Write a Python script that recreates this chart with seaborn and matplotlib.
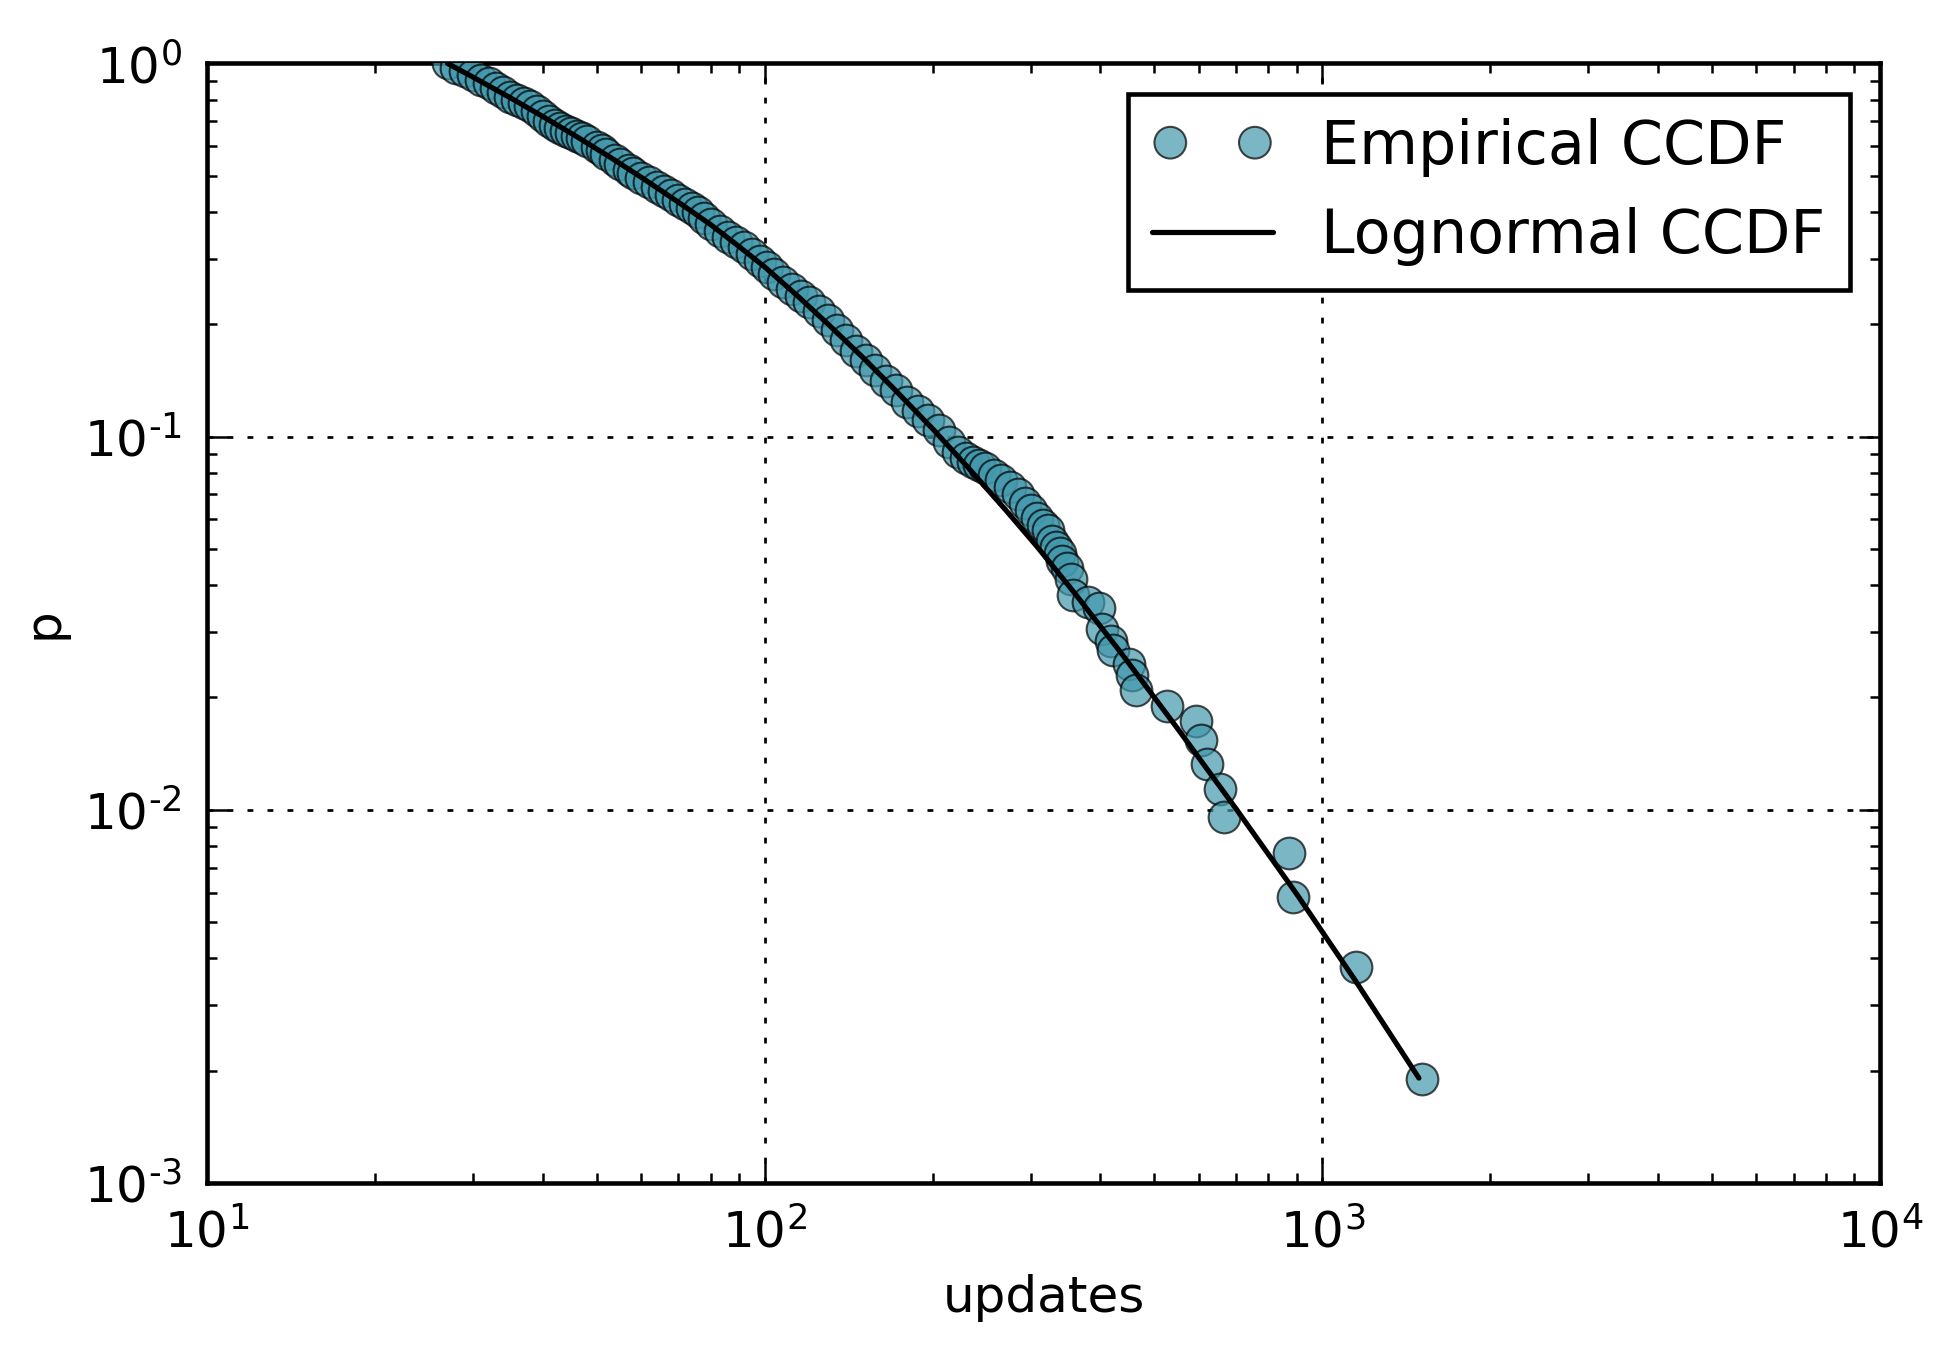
import matplotlib
matplotlib.use("Agg")
import matplotlib.pyplot as plt
from matplotlib.ticker import FuncFormatter, LogLocator
import seaborn as sns
import numpy as np
import pandas as pd

# empirical ccdf points
updates = [27, 28, 29, 30, 31, 32, 33, 34, 35, 36, 37, 38, 39, 40, 41, 42, 43, 44, 45, 46,
           47, 48, 50, 51, 52, 54, 55, 57, 58, 60, 62, 64, 66, 68, 70, 72, 74, 76, 78, 80,
           83, 86, 89, 92, 95, 98, 101, 104, 108, 112, 116, 120, 125, 130, 135, 140, 146,
           152, 158, 165, 172, 180, 188, 196, 205, 214, 222, 230, 236, 242, 248, 258, 265,
           275, 285, 293, 300, 308, 315, 322, 327, 333, 338, 342, 348, 354, 357, 380, 398,
           402, 418, 421, 450, 456, 463, 527, 594, 606, 621, 655, 666, 871, 886, 1147, 1512]
p_emp = [1.0, 0.975, 0.955, 0.930, 0.905, 0.885, 0.862, 0.838, 0.815, 0.800, 0.785, 0.768,
         0.745, 0.722, 0.703, 0.686, 0.672, 0.660, 0.650, 0.640, 0.630, 0.620, 0.598, 0.585,
         0.572, 0.550, 0.538, 0.517, 0.508, 0.494, 0.482, 0.468, 0.455, 0.443, 0.430, 0.420,
         0.410, 0.399, 0.386, 0.372, 0.356, 0.343, 0.333, 0.322, 0.309, 0.296, 0.285, 0.272,
         0.259, 0.248, 0.238, 0.229, 0.217, 0.205, 0.193, 0.182, 0.170, 0.160, 0.151, 0.141,
         0.133, 0.124, 0.117, 0.111, 0.104, 0.097, 0.091, 0.0875, 0.0855, 0.084, 0.0824,
         0.079, 0.0765, 0.0731, 0.070, 0.0664, 0.0635, 0.0605, 0.058, 0.0562, 0.0525, 0.0505,
         0.0488, 0.0465, 0.0445, 0.0415, 0.0376, 0.0360, 0.0347, 0.0305, 0.0283, 0.0268,
         0.0246, 0.0230, 0.0209, 0.0190, 0.0173, 0.0154, 0.0133, 0.0114, 0.00957, 0.00766,
         0.00584, 0.00379, 0.00190]

# fitted lognormal ccdf
fit_x = [27, 30, 35, 40, 46, 53, 60, 70, 80, 90, 100, 115, 130, 150, 170, 200, 231, 270,
         308, 360, 435, 551, 700, 900, 1150, 1490]
fit_p = [1.0, 0.919, 0.809, 0.721, 0.637, 0.559, 0.496, 0.425, 0.370, 0.323, 0.285, 0.237,
         0.200, 0.163, 0.135, 0.105, 0.083, 0.0638, 0.0507, 0.0380, 0.0264, 0.01645, 0.01007,
         0.00594, 0.00346, 0.00191]

emp = pd.DataFrame({"updates": updates, "p": p_emp})
fit = pd.DataFrame({"updates": fit_x, "p": fit_p})

sns.set_style("white")
plt.rcParams["font.family"] = ["DejaVu Sans"]
plt.rcParams["mathtext.default"] = "regular"
plt.rcParams["axes.unicode_minus"] = False
plt.rcParams["font.size"] = 12
plt.rcParams["text.color"] = "black"
plt.rcParams["axes.labelcolor"] = "black"
plt.rcParams["xtick.color"] = "black"
plt.rcParams["ytick.color"] = "black"
plt.rcParams["lines.scale_dashes"] = False

fig = plt.figure(figsize=(6.473, 4.51), dpi=300)
ax = fig.add_axes([0.1066, 0.1257, 0.8615, 0.8274])
ax.set_xscale("log")
ax.set_yscale("log")

sns.scatterplot(data=emp, x="updates", y="p", ax=ax, s=58, color="#4298ac",
                edgecolor="black", linewidth=0.5, alpha=0.7, label="Empirical CCDF",
                zorder=3)
sns.lineplot(data=fit, x="updates", y="p", ax=ax, color="black", lw=1.25,
             estimator=None, sort=False, label="Lognormal CCDF", zorder=4)

ax.set_xlim(10, 1e4)
ax.set_ylim(1e-3, 1)
ax.set_xlabel("updates", fontsize=12)
ax.set_ylabel("p", fontsize=12)


def sci(v, pos):
    e = int(round(np.log10(v)))
    return r"$10^{\text{%d}}$" % e


ax.xaxis.set_major_locator(LogLocator(base=10))
ax.yaxis.set_major_locator(LogLocator(base=10))
ax.xaxis.set_major_formatter(FuncFormatter(sci))
ax.yaxis.set_major_formatter(FuncFormatter(sci))

ax.grid(True, which="major", color="black", linestyle=(0, (1.4, 3.4)), linewidth=0.65)
for sp in ax.spines.values():
    sp.set_visible(True)
    sp.set_color("black")
    sp.set_linewidth(1.1)
ax.tick_params(which="both", direction="in", top=True, right=True, bottom=True, left=True,
               labelsize=12)
ax.tick_params(which="major", length=5, width=0.6, pad=6)
ax.tick_params(which="minor", length=2.3, width=0.6)

leg = ax.legend(loc="upper right", fontsize=14.5, scatterpoints=2, scatteryoffsets=[0.5],
                fancybox=False, frameon=True, framealpha=1, borderaxespad=0.5,
                handlelength=2.0)
leg.get_frame().set_edgecolor("black")
leg.get_frame().set_linewidth(1.1)

fig.savefig("out.png", dpi=300)
